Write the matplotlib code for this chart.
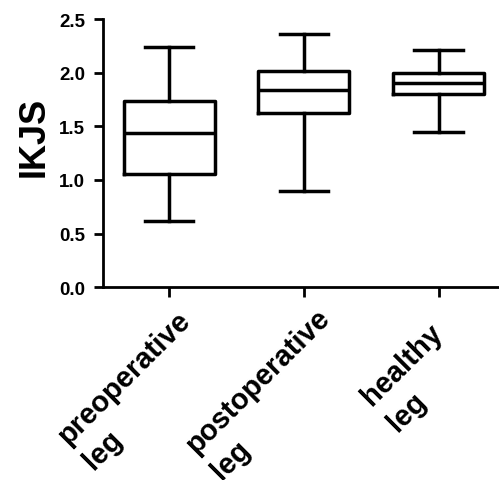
import matplotlib
matplotlib.use("Agg")
from matplotlib import pyplot as plt
from matplotlib.transforms import ScaledTranslation

# values (IKJS box plots)
groups = ["preoperative\nleg", "postoperative\nleg", "healthy\nleg"]
whisker_low = [0.62, 0.90, 1.45]
q1 = [1.06, 1.62, 1.80]
median = [1.44, 1.84, 1.90]
q3 = [1.74, 2.02, 2.00]
whisker_high = [2.235, 2.36, 2.21]
yticks = [0.0, 0.5, 1.0, 1.5, 2.0, 2.5]

plt.rcParams['font.family'] = ['Liberation Sans', 'DejaVu Sans']
plt.rcParams['font.weight'] = 'bold'

fig = plt.figure(figsize=(4.99, 4.81), dpi=100)
ax = fig.add_axes([0.2058, 0.4006, 0.7942, 0.5578])

stats = []
for i in range(len(groups)):
    stats.append({
        'whislo': whisker_low[i], 'q1': q1[i], 'med': median[i],
        'q3': q3[i], 'whishi': whisker_high[i], 'fliers': [],
    })

lw = 2.5
ax.bxp(stats, positions=[1, 2, 3], widths=0.675, capwidths=0.36,
       showfliers=False, patch_artist=False,
       boxprops=dict(color='black', linewidth=lw),
       medianprops=dict(color='black', linewidth=lw),
       whiskerprops=dict(color='black', linewidth=lw),
       capprops=dict(color='black', linewidth=lw))

ax.set_xlim(0.506, 3.448)
ax.set_ylim(0, 2.5)
ax.set_yticks(yticks)
ax.set_yticklabels(["%.1f" % v for v in yticks], fontsize=13.5, fontweight='bold')

ax.spines['top'].set_visible(False)
ax.spines['right'].set_visible(False)
ax.spines['left'].set_linewidth(2.0)
ax.spines['bottom'].set_linewidth(2.0)
ax.tick_params(axis='y', length=6.5, width=2.0, pad=6)
ax.tick_params(axis='x', length=7, width=2.0, pad=0)

ax.set_xticks([1, 2, 3])
labels = ax.set_xticklabels(groups, fontsize=21, fontweight='bold',
                            rotation=45, rotation_mode='anchor',
                            ha='right', va='top', multialignment='left',
                            linespacing=1.38)
# per-label offsets (points) to match the reference placement
offsets = [(5.0, -6.0), (8.0, -4.5), (-7.5, -15.5)]
for lab, (dx, dy) in zip(labels, offsets):
    lab.set_transform(lab.get_transform() +
                      ScaledTranslation(dx / 72, dy / 72, fig.dpi_scale_trans))

ax.set_ylabel("IKJS", fontsize=26, fontweight='bold')
ax.yaxis.set_label_coords(-0.13, 0.564)

fig.savefig("out.png", dpi=100)
